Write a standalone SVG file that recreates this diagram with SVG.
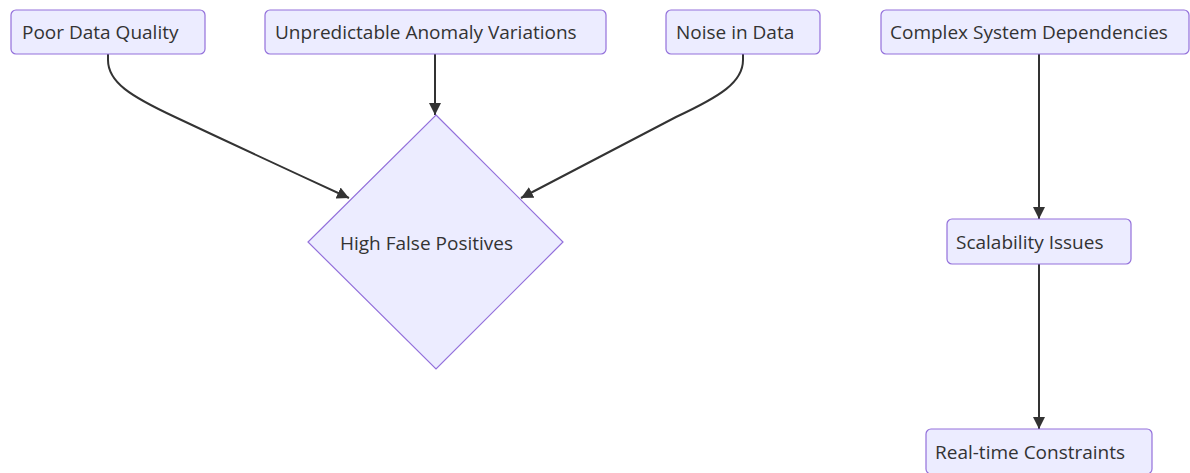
<svg xmlns="http://www.w3.org/2000/svg" width="1190" height="473" viewBox="0 0 1190 473">
  <style>
    .box { fill: #ECECFF; stroke: #9370DB; stroke-width: 1.2; }
    .label { font-family: "Open Sans", "Noto Sans", sans-serif; font-size: 19px; fill: #333333; dominant-baseline: central; }
    .edge { fill: none; stroke: #333333; stroke-width: 2; }
  </style>
  <defs>
    <marker id="arrow" markerUnits="userSpaceOnUse" viewBox="0 0 12 12" refX="12" refY="6" markerWidth="12" markerHeight="12" orient="auto">
      <path d="M0,0 L12,6 L0,12 z" fill="#333333"/>
    </marker>
  </defs>
  <rect width="1190" height="473" fill="#ffffff"/>

  <g id="connectors">
    <path class="edge" d="M108,54 L108,60 C108,82 130,96 175,117 Q260,157 349,198" marker-end="url(#arrow)"/>
    <path class="edge" d="M435,54 L435,115" marker-end="url(#arrow)"/>
    <path class="edge" d="M743,54 L743,60 C743,82 721,96 676,117 Q600,157 521,198" marker-end="url(#arrow)"/>
    <path class="edge" d="M1039,54 L1039,219" marker-end="url(#arrow)"/>
    <path class="edge" d="M1039,264 L1039,429" marker-end="url(#arrow)"/>
  </g>

  <g id="poor-data-quality">
    <rect class="box" x="11" y="10" width="194" height="44" rx="5"/>
    <text class="label" x="22" y="32">Poor Data Quality</text>
  </g>
  <g id="unpredictable-anomaly-variations">
    <rect class="box" x="265" y="10" width="341" height="44" rx="5"/>
    <text class="label" x="275" y="32">Unpredictable Anomaly Variations</text>
  </g>
  <g id="noise-in-data">
    <rect class="box" x="666" y="10" width="154" height="44" rx="5"/>
    <text class="label" x="676" y="32">Noise in Data</text>
  </g>
  <g id="complex-system-dependencies">
    <rect class="box" x="881" y="10" width="308" height="44" rx="5"/>
    <text class="label" x="890" y="32">Complex System Dependencies</text>
  </g>
  <g id="high-false-positives">
    <polygon class="box" points="436,115 563,242 436,369 308,242"/>
    <text class="label" x="340" y="243">High False Positives</text>
  </g>
  <g id="scalability-issues">
    <rect class="box" x="947" y="219" width="184" height="45" rx="5"/>
    <text class="label" x="956" y="242">Scalability Issues</text>
  </g>
  <g id="real-time-constraints">
    <rect class="box" x="926" y="429" width="226" height="45" rx="5"/>
    <text class="label" x="935" y="452">Real-time Constraints</text>
  </g>
</svg>
